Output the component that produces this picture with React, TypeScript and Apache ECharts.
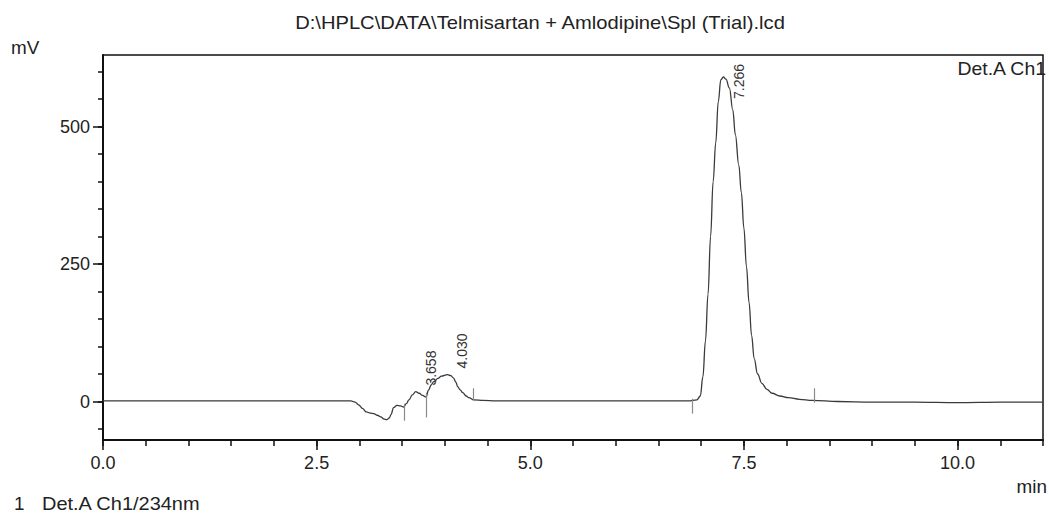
import React, { useEffect, useRef } from "react";
import * as echarts from "echarts";

const titleText = "D:\\HPLC\\DATA\\Telmisartan + Amlodipine\\Spl (Trial).lcd";
const yUnit = "mV";
const xUnit = "min";
const channelTag = "Det.A Ch1";
const legendIndex = "1";
const legendText = "Det.A Ch1/234nm";

// chromatogram trace (min, mV)
const retentionTime = [
  0, 1, 2, 2.5, 2.8, 2.9, 2.95, 2.99, 3.04, 3.08, 3.13, 3.17, 3.21, 3.25, 3.29, 3.32, 3.35, 3.37, 3.4, 3.44,
  3.48, 3.52, 3.55, 3.58, 3.62, 3.66, 3.7, 3.74, 3.78, 3.81, 3.84, 3.87, 3.92, 3.96, 4.03, 4.07, 4.1, 4.13,
  4.15, 4.18, 4.21, 4.25, 4.28, 4.34, 4.45, 4.6, 5, 5.5, 6, 6.5, 6.85, 6.95, 6.99, 7.02, 7.05, 7.08, 7.11,
  7.14, 7.17, 7.2, 7.23, 7.26, 7.29, 7.33, 7.37, 7.4, 7.44, 7.47, 7.5, 7.53, 7.56, 7.59, 7.62, 7.66, 7.71,
  7.77, 7.83, 7.92, 8.02, 8.15, 8.3, 8.6, 9, 9.5, 10, 10.5, 11,
];
const signalMv = [
  1, 1, 1, 1, 1, 1, -1, -6, -13, -19, -21, -22, -25, -28, -32, -33, -30, -24, -11, -7,
  -8, -10, -4, 3, 12, 18, 15, 11, 8, 21, 30, 36, 42, 46, 49, 47, 43, 35,
  27, 21, 16, 10, 7, 3, 2, 1, 1, 1, 1, 1, 1, 3, 10, 45, 110, 195, 300,
  400, 470, 545, 585, 590, 586, 570, 530, 485, 430, 380, 315, 245, 180, 120, 78, 50, 33,
  22, 15, 10, 7, 4, 2, 0, -1, -1, -2, -1, -1,
];

// peak annotations
const peakTimes = [3.658, 4.03, 7.266];
const peakHeights = [18, 49, 590];
const peakLabels = ["3.658", "4.030", "7.266"];

// integration markers (min, upper mV, lower mV)
const markerTimes = [3.52, 3.78, 4.33, 6.89, 8.32];
const markerHigh = [-4, 16, 24, 5, 24];
const markerLow = [-35, -29, 2, -22, -2];

// axes
const xMin = 0;
const xMax = 11;
const xMinorStep = 0.5;
const xLabelValues = [0, 2.5, 5, 7.5, 10];
const yMin = -70;
const yMax = 630;
const yTickValues = [-50, 0, 50, 100, 150, 200, 250, 300, 350, 400, 450, 500, 550, 600];
const yLabelValues = [0, 250, 500];

const FONT = "'Liberation Sans', Arial, sans-serif";
const INK = "#222";

export default function App() {
  const ref = useRef<HTMLDivElement>(null);

  useEffect(() => {
    if (!ref.current) return;
    const chart = echarts.init(ref.current, null, { renderer: "svg" });
    const gridTop = 55;
    const option: any = {
      animation: false,
      backgroundColor: "#ffffff",
      textStyle: { fontFamily: FONT },
      grid: {
        left: 103,
        right: 6,
        top: gridTop,
        bottom: 74,
        show: true,
        borderColor: "#111",
        borderWidth: 1.5,
      },
      xAxis: [
        {
          type: "value",
          min: xMin,
          max: xMax,
          interval: xMinorStep,
          position: "bottom",
          axisLine: { show: true, onZero: false, lineStyle: { color: "#111", width: 2 } },
          axisTick: { show: true, length: 6, lineStyle: { color: "#111", width: 1.5 } },
          axisLabel: {
            customValues: xLabelValues,
            formatter: (v: number) => v.toFixed(1),
            fontSize: 18,
            color: INK,
            margin: 14,
            fontFamily: FONT,
          },
          splitLine: { show: false },
        },
        {
          type: "value",
          min: xMin,
          max: xMax,
          position: "bottom",
          axisLine: { show: false, onZero: false },
          axisTick: { show: true, customValues: xLabelValues, length: 10, lineStyle: { color: "#111", width: 1.5 } },
          axisLabel: { show: false },
          splitLine: { show: false },
        },
      ],
      yAxis: [
        {
          type: "value",
          min: yMin,
          max: yMax,
          position: "left",
          axisLine: { show: true, onZero: false, lineStyle: { color: "#111", width: 2 } },
          axisTick: { show: true, customValues: yTickValues, length: 5, lineStyle: { color: "#111", width: 1.5 } },
          axisLabel: {
            customValues: yLabelValues,
            fontSize: 18,
            color: INK,
            margin: 13,
            fontFamily: FONT,
          },
          splitLine: { show: false },
        },
        {
          type: "value",
          min: yMin,
          max: yMax,
          position: "left",
          axisLine: { show: false, onZero: false },
          axisTick: { show: true, customValues: yLabelValues, length: 10, lineStyle: { color: "#111", width: 1.5 } },
          axisLabel: { show: false },
          splitLine: { show: false },
        },
      ],
      series: [
        {
          type: "line",
          xAxisIndex: 0,
          yAxisIndex: 0,
          data: retentionTime.map((t, i) => [t, signalMv[i]]),
          showSymbol: false,
          smooth: 0.4,
          smoothMonotone: "x",
          lineStyle: { color: "#3a3a3a", width: 1.3 },
          silent: true,
          markLine: {
            silent: true,
            symbol: ["none", "none"],
            label: { show: false },
            lineStyle: { color: "#8a8a8a", width: 1.2, type: "solid" },
            data: markerTimes.map((t, i) => [
              { coord: [t, markerHigh[i]] },
              { coord: [t, markerLow[i]] },
            ]),
          },
        },
      ],
    };
    chart.setOption(option);

    const labelFont = 14;
    const labelLen = 40;
    const peakGraphics = peakTimes.map((t, i) => {
      const p = chart.convertToPixel({ gridIndex: 0 }, [t, peakHeights[i]]) as number[];
      const bottom = Math.max(p[1] - 6, gridTop + labelLen + 4);
      return {
        type: "text",
        x: p[0] + 8,
        y: bottom,
        rotation: Math.PI / 2,
        silent: true,
        style: {
          text: peakLabels[i],
          fontSize: labelFont,
          fontFamily: FONT,
          fill: "#333",
          align: "left",
          verticalAlign: "top",
        },
      };
    });

    const txt = (text: string, x: number, y: number, align: string, sx: number) => ({
      type: "text",
      x,
      y,
      scaleX: sx,
      silent: true,
      style: {
        text,
        fontSize: 18,
        lineHeight: 18,
        fontFamily: FONT,
        fill: INK,
        align,
        verticalAlign: "middle",
      },
    });

    chart.setOption({
      graphic: [
        txt(titleText, 540, 23, "center", 1.12),
        txt(yUnit, 11, 48, "left", 1.05),
        txt(channelTag, 1046, 69, "right", 1.08),
        txt(xUnit, 1047, 487, "right", 1.05),
        txt(legendIndex, 14, 504, "left", 1.05),
        txt(legendText, 42, 504, "left", 1.11),
        ...peakGraphics,
      ],
    });

    return () => chart.dispose();
  }, []);

  return (
    <div
      ref={ref}
      style={{ position: "fixed", left: 0, top: 0, width: 1049, height: 514, background: "#fff" }}
    />
  );
}
